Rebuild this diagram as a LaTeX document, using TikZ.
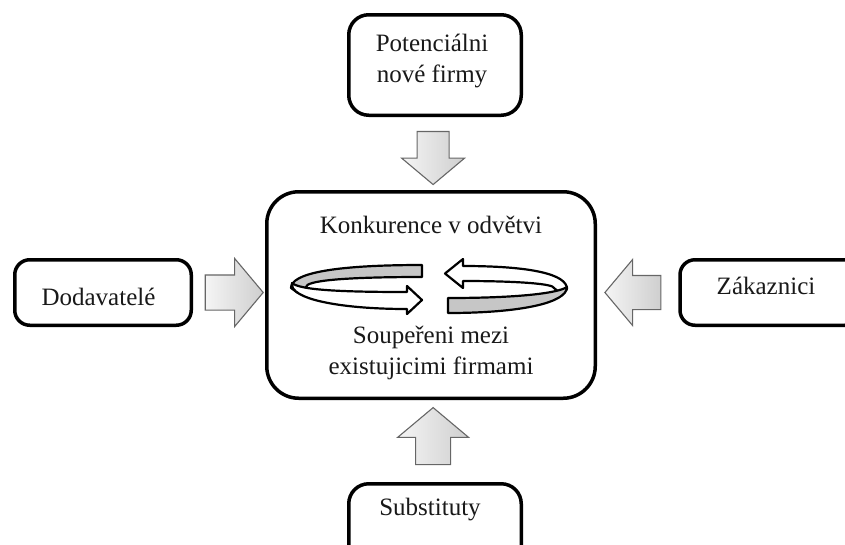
\documentclass[tikz,border=0pt]{standalone}
\usepackage{fontspec}
\setmainfont{Liberation Serif}
\usetikzlibrary{shapes.arrows,calc}

\begin{document}
\begin{tikzpicture}[x=1pt,y=-1pt,
  box/.style={draw=black, line width=3.5pt, fill=white, inner sep=0pt},
  lbl/.style={anchor=base, inner sep=0pt, font=\fontsize{25}{31}\selectfont, text=black!90},
  blockarrow/.style={single arrow, draw=black!60, line width=1.1pt, inner xsep=0pt,
    single arrow tip angle=100, left color=gray!8, right color=gray!38},
  rib/.style={draw=black, line width=2.2pt, line join=round}
]
\path[use as bounding box] (0,0) rectangle (845,544);
\clip (0,0) rectangle (845,544);

% frames
\node[box, rounded corners=20pt, minimum width=172.5pt, minimum height=100.5pt] (pot) at (435,65) {};
\node[box, rounded corners=32pt, minimum width=328.5pt, minimum height=206.5pt] (mid) at (431,295) {};
\node[box, rounded corners=15pt, minimum width=176.5pt, minimum height=65.5pt] (dod) at (103,292.5) {};
\node[box, rounded corners=15pt, minimum width=180pt, minimum height=65.5pt] (zak) at (770,292.5) {};
\node[box, rounded corners=20pt, minimum width=172.5pt, minimum height=100.5pt] (sub) at (435,534) {};

% labels
\node[lbl] (potA) at (432,51) {Potenciálni};
\node[lbl] (potB) at (432,82) {nové firmy};
\node[lbl] (konk) at (431,233) {Konkurence v odvětvi};
\node[lbl] (soupA) at (431,343) {Soupeřeni mezi};
\node[lbl] (soupB) at (431,374) {existujicimi firmami};
\node[lbl] (dodL) at (98.5,305) {Dodavatelé};
\node[lbl] (zakL) at (766,294) {Zákaznici};
\node[lbl] (subL) at (430,515) {Substituty};

% block arrows between the frames (shaft width = 2 x inner ysep)
\node[blockarrow, rotate=-90, minimum height=53pt, inner ysep=15.5pt, single arrow head extend=15.5pt]
  (aTop) at ($(pot.south)!0.47!(mid.north)$) {};
\node[blockarrow, minimum height=58pt, inner ysep=17pt, single arrow head extend=16.5pt]
  (aLeft) at ($(dod.east)!0.47!(mid.west |- dod.east)$) {};
\node[blockarrow, rotate=180, minimum height=56pt, inner ysep=16.5pt, single arrow head extend=16pt]
  (aRight) at ($(zak.west)!0.47!(mid.east |- zak.west)$) {};
\node[blockarrow, rotate=90, minimum height=57pt, inner ysep=17pt, single arrow head extend=18pt]
  (aBot) at ($(sub.north)!0.47!(mid.south)$) {};

% circular ribbon arrows: left half
\filldraw[rib, fill=gray!45] (422,265) .. controls (330,265) and (291,274) .. (291,288)
  -- (298,293) -- (306,287) .. controls (306,281) and (340,277) .. (422,277) -- cycle;
\filldraw[rib, fill=white] (292,283) .. controls (289,299) and (340,309) .. (407,309)
  -- (407,314) -- (422,300) -- (407,286) -- (407,292)
  .. controls (340,292) and (300,290) .. (292,283) -- cycle;

% circular ribbon arrows: right half
\filldraw[rib, fill=white] (463,266) .. controls (530,266) and (567,274) .. (567,289)
  -- (560,293) -- (554,288) .. controls (554,284) and (520,281) .. (463,281)
  -- (463,288) -- (445,273.5) -- (463,259) -- cycle;
\filldraw[rib, fill=gray!45] (567,287) .. controls (567,303) and (520,313) .. (448,313)
  -- (448,298) .. controls (520,298) and (558,293) .. (567,287) -- cycle;
\end{tikzpicture}
\end{document}
